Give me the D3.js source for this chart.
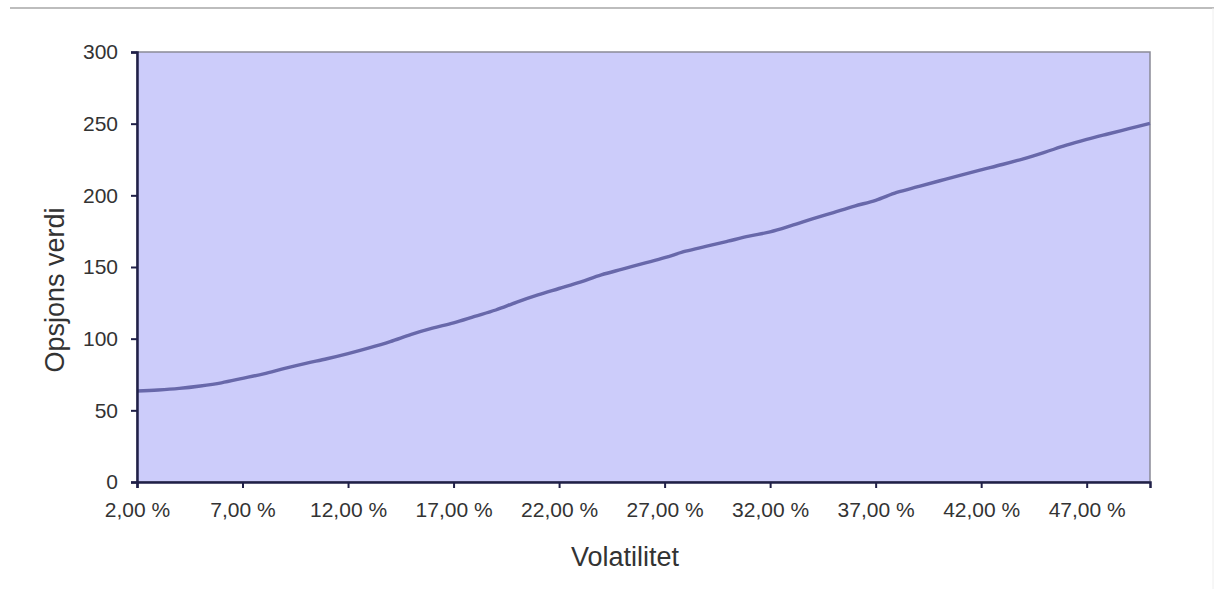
<!DOCTYPE html>
<html>
<head>
<meta charset="utf-8">
<script src="https://cdn.jsdelivr.net/npm/d3@7"></script>
<style>
  html, body { margin: 0; padding: 0; background: #ffffff; }
  svg { display: block; }
  text { font-family: "Liberation Sans", Arial, sans-serif; fill: #333333; }
</style>
</head>
<body>
<svg id="chart" width="1214" height="589"></svg>
<script>
// Volatility levels (per cent) on the category axis
const volatility = [
  2, 3, 4, 5, 6, 7, 8, 9, 10, 11, 12, 13, 14, 15, 16, 17, 18, 19, 20, 21,
  22, 23, 24, 25, 26, 27, 28, 29, 30, 31, 32, 33, 34, 35, 36, 37, 38, 39, 40, 41,
  42, 43, 44, 45, 46, 47, 48, 49, 50
];

// Option value at each volatility level
const optionValue = [
  63.5, 64.2, 65.3, 67.0, 69.2, 72.3, 75.5, 79.3, 82.8, 86.0,
  89.6, 93.6, 98.0, 103.0, 107.3, 111.0, 115.5, 120.0, 125.5, 130.5,
  135.0, 139.5, 144.5, 148.5, 152.5, 156.5, 161.0, 164.5, 168.0, 171.5,
  174.5, 178.8, 183.5, 188.0, 192.5, 196.5, 202.0, 206.0, 210.0, 214.0,
  217.8, 221.5, 225.5, 230.0, 234.8, 239.0, 242.8, 246.5, 250.2
];

// Labelled categories on the x axis and value ticks on the y axis
const xTickValues = [2, 7, 12, 17, 22, 27, 32, 37, 42, 47];
const yTickValues = [0, 50, 100, 150, 200, 250, 300];

const xTitle = "Volatilitet";
const yTitle = "Opsjons verdi";

const svg = d3.select("#chart");
const plot = { left: 137, top: 52, right: 1150, bottom: 482 };

const x = d3.scalePoint()
  .domain(volatility)
  .range([plot.left, plot.right]);

const y = d3.scaleLinear()
  .domain([0, 300])
  .range([plot.bottom, plot.top]);

const fmtPct = v => d3.format(".2f")(v).replace(".", ",") + " %";

// Frame line along the top of the picture and its right edge
svg.append("line")
  .attr("x1", 10).attr("x2", 1214)
  .attr("y1", 8).attr("y2", 8)
  .attr("stroke", "#bdbdbd").attr("stroke-width", 2);
svg.append("line")
  .attr("x1", 1213).attr("x2", 1213)
  .attr("y1", 8).attr("y2", 589)
  .attr("stroke", "#eeeeee").attr("stroke-width", 1);

// Plot area background
svg.append("rect")
  .attr("x", plot.left).attr("y", plot.top)
  .attr("width", plot.right - plot.left)
  .attr("height", plot.bottom - plot.top)
  .attr("fill", "#ccccfa")
  .attr("stroke", "#8a8a96")
  .attr("stroke-width", 1.5);

// Value curve
const line = d3.line()
  .x((d, i) => x(volatility[i]))
  .y(d => y(d))
  .curve(d3.curveMonotoneX);

svg.append("path")
  .datum(optionValue)
  .attr("fill", "none")
  .attr("stroke", "#6868aa")
  .attr("stroke-width", 3.4)
  .attr("stroke-linejoin", "round")
  .attr("d", line);

// Y axis
const yAxis = d3.axisLeft(y)
  .tickValues(yTickValues)
  .tickSize(6)
  .tickPadding(8)
  .tickFormat(d3.format("d"));

const gy = svg.append("g")
  .attr("transform", `translate(${plot.left},0)`)
  .call(yAxis);
gy.select(".domain").attr("stroke", "#202048").attr("stroke-width", 2.5);
gy.selectAll(".tick line").attr("stroke", "#202048").attr("stroke-width", 2);
gy.selectAll(".tick text")
  .attr("font-size", 21)
  .attr("fill", "#3a3a3a")
  .attr("x", -19);

// X axis
const xAxis = d3.axisBottom(x)
  .tickValues(xTickValues)
  .tickSize(6)
  .tickPadding(10)
  .tickFormat(fmtPct);

const gx = svg.append("g")
  .attr("transform", `translate(0,${plot.bottom})`)
  .call(xAxis);
gx.select(".domain").attr("stroke", "#202048").attr("stroke-width", 2.5);
gx.selectAll(".tick line").attr("stroke", "#202048").attr("stroke-width", 2);
gx.selectAll(".tick text")
  .attr("font-size", 21)
  .attr("fill", "#3a3a3a")
  .attr("y", 20);

// Axis titles
svg.append("text")
  .attr("x", 625)
  .attr("y", 566)
  .attr("text-anchor", "middle")
  .attr("font-size", 27)
  .attr("fill", "#222222")
  .text(xTitle);

svg.append("text")
  .attr("transform", "translate(64,290) rotate(-90)")
  .attr("text-anchor", "middle")
  .attr("font-size", 27)
  .attr("fill", "#222222")
  .text(yTitle);
</script>
</body>
</html>
